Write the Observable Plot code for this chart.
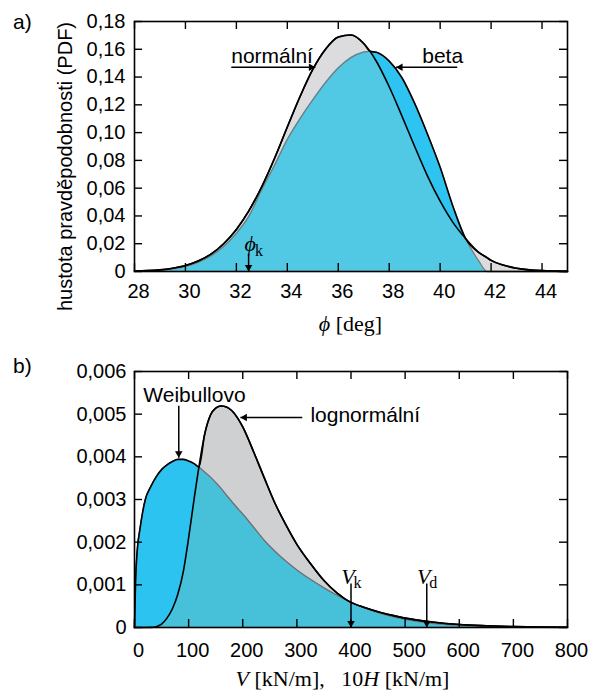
<!DOCTYPE html>
<html>
<head>
<meta charset="utf-8">
<script src="https://cdn.jsdelivr.net/npm/d3@7"></script>
<script src="https://cdn.jsdelivr.net/npm/@observablehq/plot@0.6"></script>
<style>
  body { margin: 0; background: white; }
  #wrap { position: relative; width: 599px; height: 697px; background: white; overflow: hidden; }
  #wrap svg { position: absolute; left: 0; z-index: 1; }
  .ov { position: absolute; white-space: nowrap; color: black; z-index: 2; }
  .sans { font-family: "Liberation Sans", Arial, Helvetica, sans-serif; font-size: 21px; line-height: 21px; }
  .serif { font-family: "Liberation Serif", "DejaVu Serif", "Times New Roman", serif; font-size: 22px; line-height: 22px; text-align: center; }
</style>
</head>
<body>
<div id="wrap">
  <div class="ov sans" style="left:13px; top:11px;">a)</div>
  <div class="ov sans" style="left:13px; top:355px;">b)</div>
  <div class="ov serif" style="left:134px; width:433px; top:313px;"><i>ϕ</i> [deg]</div>
  <div class="ov serif" style="left:126px; width:433px; top:668px;"><i>V</i> [kN/m],&nbsp;&nbsp; 10<i>H</i> [kN/m]</div>
</div>
<script>
// ---------- Panel a data ----------
const phi = [28, 28.5, 29, 29.5, 30, 30.5, 31, 31.5, 32, 32.5, 33, 33.5, 34, 34.5, 35, 35.5, 36, 36.5, 37, 37.25, 37.5, 38, 38.5, 39, 39.5, 40, 40.5, 41, 41.5, 41.85, 42, 42.5, 43, 43.5, 44, 44.5, 45];
const normalPdf = [0.0003, 0.0006, 0.0012, 0.0024, 0.0043, 0.0075, 0.0125, 0.0200, 0.0303, 0.0440, 0.0612, 0.0815, 0.1040, 0.1260, 0.1455, 0.1600, 0.1688, 0.1703, 0.1642, 0.1585, 0.1512, 0.1330, 0.1119, 0.0900, 0.0689, 0.0506, 0.0354, 0.0237, 0.0140, 0.0098, 0.0080, 0.0045, 0.0024, 0.0012, 0.0006, 0.0003, 0.0001];
const betaPdf   = [0.0001, 0.0004, 0.0009, 0.0019, 0.0036, 0.0066, 0.0112, 0.0180, 0.0275, 0.0400, 0.0590, 0.0765, 0.0950, 0.1100, 0.1235, 0.1360, 0.1465, 0.1540, 0.1580, 0.1585, 0.1578, 0.1515, 0.1395, 0.1210, 0.0990, 0.0750, 0.0470, 0.0237, 0.0080, 0, 0, 0, 0, 0, 0, 0, 0];
const xTicksA = [28, 30, 32, 34, 36, 38, 40, 42, 44];
const yTicksA = [0, 0.02, 0.04, 0.06, 0.08, 0.10, 0.12, 0.14, 0.16, 0.18];
const phiK = 32.48;
const labelsA = [
  {text: "normální", x: 33.4, y: 0.1553},
  {text: "beta", x: 40.1, y: 0.1553}
];
const arrowsA = [
  {x1: 31.8, y1: 0.1471, x2: 35.1, y2: 0.1471, dir: "right"},
  {x1: 40.67, y1: 0.1471, x2: 38.27, y2: 0.1471, dir: "left"},
  {x1: phiK, y1: 0.0127, x2: phiK, y2: 0, dir: "down"}
];

// ---------- Panel b data ----------
const V = [0, 2, 5, 10, 15, 20, 30, 40, 50, 60, 70, 80, 90, 100, 110, 119, 130, 140, 150, 160, 170, 180, 190, 200, 220, 240, 260, 280, 300, 325, 350, 375, 398, 425, 450, 475, 500, 550, 600, 650, 700, 750, 800];
const weibullPdf = [0, 0.0011, 0.0018, 0.0023, 0.0027, 0.0030, 0.0033, 0.00353, 0.0037, 0.00381, 0.00389, 0.00394, 0.00394, 0.0039, 0.00384, 0.00376, 0.00364, 0.00353, 0.0034, 0.00326, 0.0031, 0.00295, 0.0028, 0.00266, 0.00235, 0.00204, 0.00178, 0.00155, 0.00135, 0.00113, 0.00093, 0.00075, 0.0006, 0.00046, 0.00035, 0.00026, 0.00019, 0.0001, 0.00005, 0.00002, 0.00001, 0.000003, 0];
const lognormPdf = [0, 0, 0, 0, 0, 0, 0.000002, 0.00002, 0.00008, 0.00022, 0.00044, 0.00078, 0.0013, 0.0021, 0.0030, 0.00376, 0.00455, 0.00497, 0.00514, 0.00519, 0.00517, 0.00508, 0.00492, 0.0047, 0.00412, 0.0035, 0.0029, 0.0024, 0.00195, 0.0015, 0.0011, 0.0008, 0.0006, 0.00047, 0.00037, 0.00029, 0.00022, 0.00013, 0.00007, 0.00004, 0.00002, 0.00001, 0.000005];
const xTicksB = [0, 100, 200, 300, 400, 500, 600, 700, 800];
const yTicksB = [0, 0.001, 0.002, 0.003, 0.004, 0.005, 0.006];
const Vk = 400, Vd = 540;
const labelsBMiddle = [{text: "Weibullovo", x: 110.8, y: 0.00544}];
const labelsBStart = [{text: "lognormální", x: 325, y: 0.00498}];
const arrowsB = [
  {x1: 81.8, y1: 0.0052, x2: 81.8, y2: 0.00398, dir: "down"},
  {x1: 310, y1: 0.00492, x2: 195.7, y2: 0.00492, dir: "left"},
  {x1: Vk, y1: 0.00103, x2: Vk, y2: 0, dir: "down"},
  {x1: Vd, y1: 0.00103, x2: Vd, y2: 0, dir: "down"}
];
const charB = [
  {x: Vk, main: "V", sub: "k"},
  {x: Vd, main: "V", sub: "d"}
];

// ---------- helpers ----------
const SANS = '"Liberation Sans", Arial, Helvetica, sans-serif';
const SERIF = '"Liberation Serif", "DejaVu Serif", "Times New Roman", serif';
const curve = "monotone-x";
const W = 599, ML = 134, MR = 32, FW = W - ML - MR;
const comma = (digits) => d => d === 0 ? "0" : d.toFixed(digits).replace(".", ",");

function arrowMarks(arrows) {
  const head = {symbol: "triangle", fill: "black", stroke: "none", r: 2.8};
  const off = 4.3;
  return [
    Plot.link(arrows, {x1: "x1", y1: "y1", x2: "x2", y2: "y2", stroke: "black", strokeWidth: 1.5}),
    Plot.dot(arrows.filter(a => a.dir === "right"), {x: "x2", y: "y2", rotate: 90, dx: -off, ...head}),
    Plot.dot(arrows.filter(a => a.dir === "left"), {x: "x2", y: "y2", rotate: 270, dx: off, ...head}),
    Plot.dot(arrows.filter(a => a.dir === "down"), {x: "x2", y: "y2", rotate: 180, dy: -off, ...head})
  ];
}

function frameTicks(xt, yt, FH) {
  return [
    Plot.tickX(xt, {x: d => d, insetTop: FH - 8, stroke: "black", strokeWidth: 1.4}),
    Plot.tickX(xt, {x: d => d, insetBottom: FH - 8, stroke: "black", strokeWidth: 1.4}),
    Plot.tickY(yt, {y: d => d, insetRight: FW - 8, stroke: "black", strokeWidth: 1.4}),
    Plot.tickY(yt, {y: d => d, insetLeft: FW - 8, stroke: "black", strokeWidth: 1.4})
  ];
}

// ---------- Panel a ----------
const dataA = phi.map((x, i) => ({
  x, n: normalPdf[i], b: betaPdf[i],
  lo: Math.min(normalPdf[i], betaPdf[i]),
  hi: Math.max(normalPdf[i], betaPdf[i])
}));
const HA = 340, MTA = 21, MBA = 69, FHA = HA - MTA - MBA;

const plotA = Plot.plot({
  width: W, height: HA,
  marginLeft: ML, marginRight: MR, marginTop: MTA, marginBottom: MBA,
  style: {fontFamily: SANS, fontSize: "20px", background: "white", color: "black", overflow: "visible"},
  x: {domain: [28, 45]},
  y: {domain: [0, 0.18]},
  marks: [
    Plot.areaY(dataA, {x: "x", y: "n", fill: "#dcdcde", curve}),
    Plot.areaY(dataA, {x: "x", y: "b", fill: "#2ec4f2", curve}),
    Plot.areaY(dataA, {x: "x", y: "lo", fill: "#52c9e4", curve}),
    Plot.line(dataA, {x: "x", y: "b", stroke: "#7a7a7a", strokeWidth: 1.3, curve}),
    Plot.line(dataA, {x: "x", y: "n", stroke: "black", strokeWidth: 1.6, curve}),
    Plot.line(dataA, {x: "x", y: "hi", stroke: "black", strokeWidth: 1.6, curve}),
    ...frameTicks(xTicksA, yTicksA, FHA),
    Plot.frame({stroke: "black", strokeWidth: 1.6}),
    Plot.axisX({ticks: xTicksA, tickSize: 0, tickPadding: 12, dx: 4, label: null, fontSize: 20}),
    Plot.axisY({ticks: yTicksA, tickSize: 0, tickPadding: 9, label: null, tickFormat: comma(2), fontSize: 20}),
    Plot.text(["hustota pravděpodobnosti (PDF)"], {text: d => d, frameAnchor: "left", textAnchor: "middle", lineAnchor: "middle", rotate: -90, dx: -69, dy: 20, fontSize: 20}),
    Plot.text(labelsA, {x: "x", y: "y", text: "text", fontSize: 21, textAnchor: "middle"}),
    ...arrowMarks(arrowsA),
    Plot.text([phiK], {x: d => d, y: 0.01512, text: () => "ϕ", fontFamily: SERIF, fontStyle: "italic", fontSize: 22, lineAnchor: "bottom", textAnchor: "middle", dx: 1.7}),
    Plot.text([phiK], {x: d => d, y: 0.01512, text: () => "k", fontFamily: SERIF, fontSize: 16, lineAnchor: "bottom", textAnchor: "start", dx: 6.5, dy: 5})
  ]
});
plotA.style.top = "0px";

// ---------- Panel b ----------
const dataB = V.map((x, i) => ({
  x, w: weibullPdf[i], l: lognormPdf[i],
  lo: Math.min(weibullPdf[i], lognormPdf[i]),
  hi: Math.max(weibullPdf[i], lognormPdf[i])
}));
const HB = 357, MTB = 31, MBB = 70, FHB = HB - MTB - MBB;

const plotB = Plot.plot({
  width: W, height: HB,
  marginLeft: ML, marginRight: MR, marginTop: MTB, marginBottom: MBB,
  style: {fontFamily: SANS, fontSize: "20px", background: "white", color: "black", overflow: "visible"},
  x: {domain: [0, 800]},
  y: {domain: [0, 0.006]},
  marks: [
    Plot.areaY(dataB, {x: "x", y: "l", fill: "#cfd0d2", curve}),
    Plot.areaY(dataB, {x: "x", y: "w", fill: "#2dc3f1", curve}),
    Plot.areaY(dataB, {x: "x", y: "lo", fill: "#47c0da", curve}),
    Plot.line(dataB, {x: "x", y: "w", stroke: "#6f6f6f", strokeWidth: 1.3, curve}),
    Plot.line(dataB, {x: "x", y: "l", stroke: "black", strokeWidth: 1.6, curve}),
    Plot.line(dataB, {x: "x", y: "hi", stroke: "black", strokeWidth: 1.6, curve}),
    ...frameTicks(xTicksB, yTicksB, FHB),
    Plot.frame({stroke: "black", strokeWidth: 1.6}),
    Plot.axisX({ticks: xTicksB, tickSize: 0, tickPadding: 15, dx: 4, label: null, fontSize: 20}),
    Plot.axisY({ticks: yTicksB, tickSize: 0, tickPadding: 8, label: null, tickFormat: comma(3), fontSize: 20}),
    Plot.text(labelsBMiddle, {x: "x", y: "y", text: "text", fontSize: 21, textAnchor: "middle"}),
    Plot.text(labelsBStart, {x: "x", y: "y", text: "text", fontSize: 21, textAnchor: "start"}),
    ...arrowMarks(arrowsB),
    Plot.text(charB, {x: "x", y: 0.00102, text: "main", fontFamily: SERIF, fontStyle: "italic", fontSize: 22, lineAnchor: "bottom", textAnchor: "middle", dx: -3}),
    Plot.text(charB, {x: "x", y: 0.00102, text: "sub", fontFamily: SERIF, fontSize: 16, lineAnchor: "bottom", textAnchor: "start", dx: 2.5, dy: 4.5})
  ]
});
plotB.style.top = "340px";

const wrap = document.getElementById("wrap");
wrap.insertBefore(plotB, wrap.firstChild);
wrap.insertBefore(plotA, wrap.firstChild);
</script>
</body>
</html>
